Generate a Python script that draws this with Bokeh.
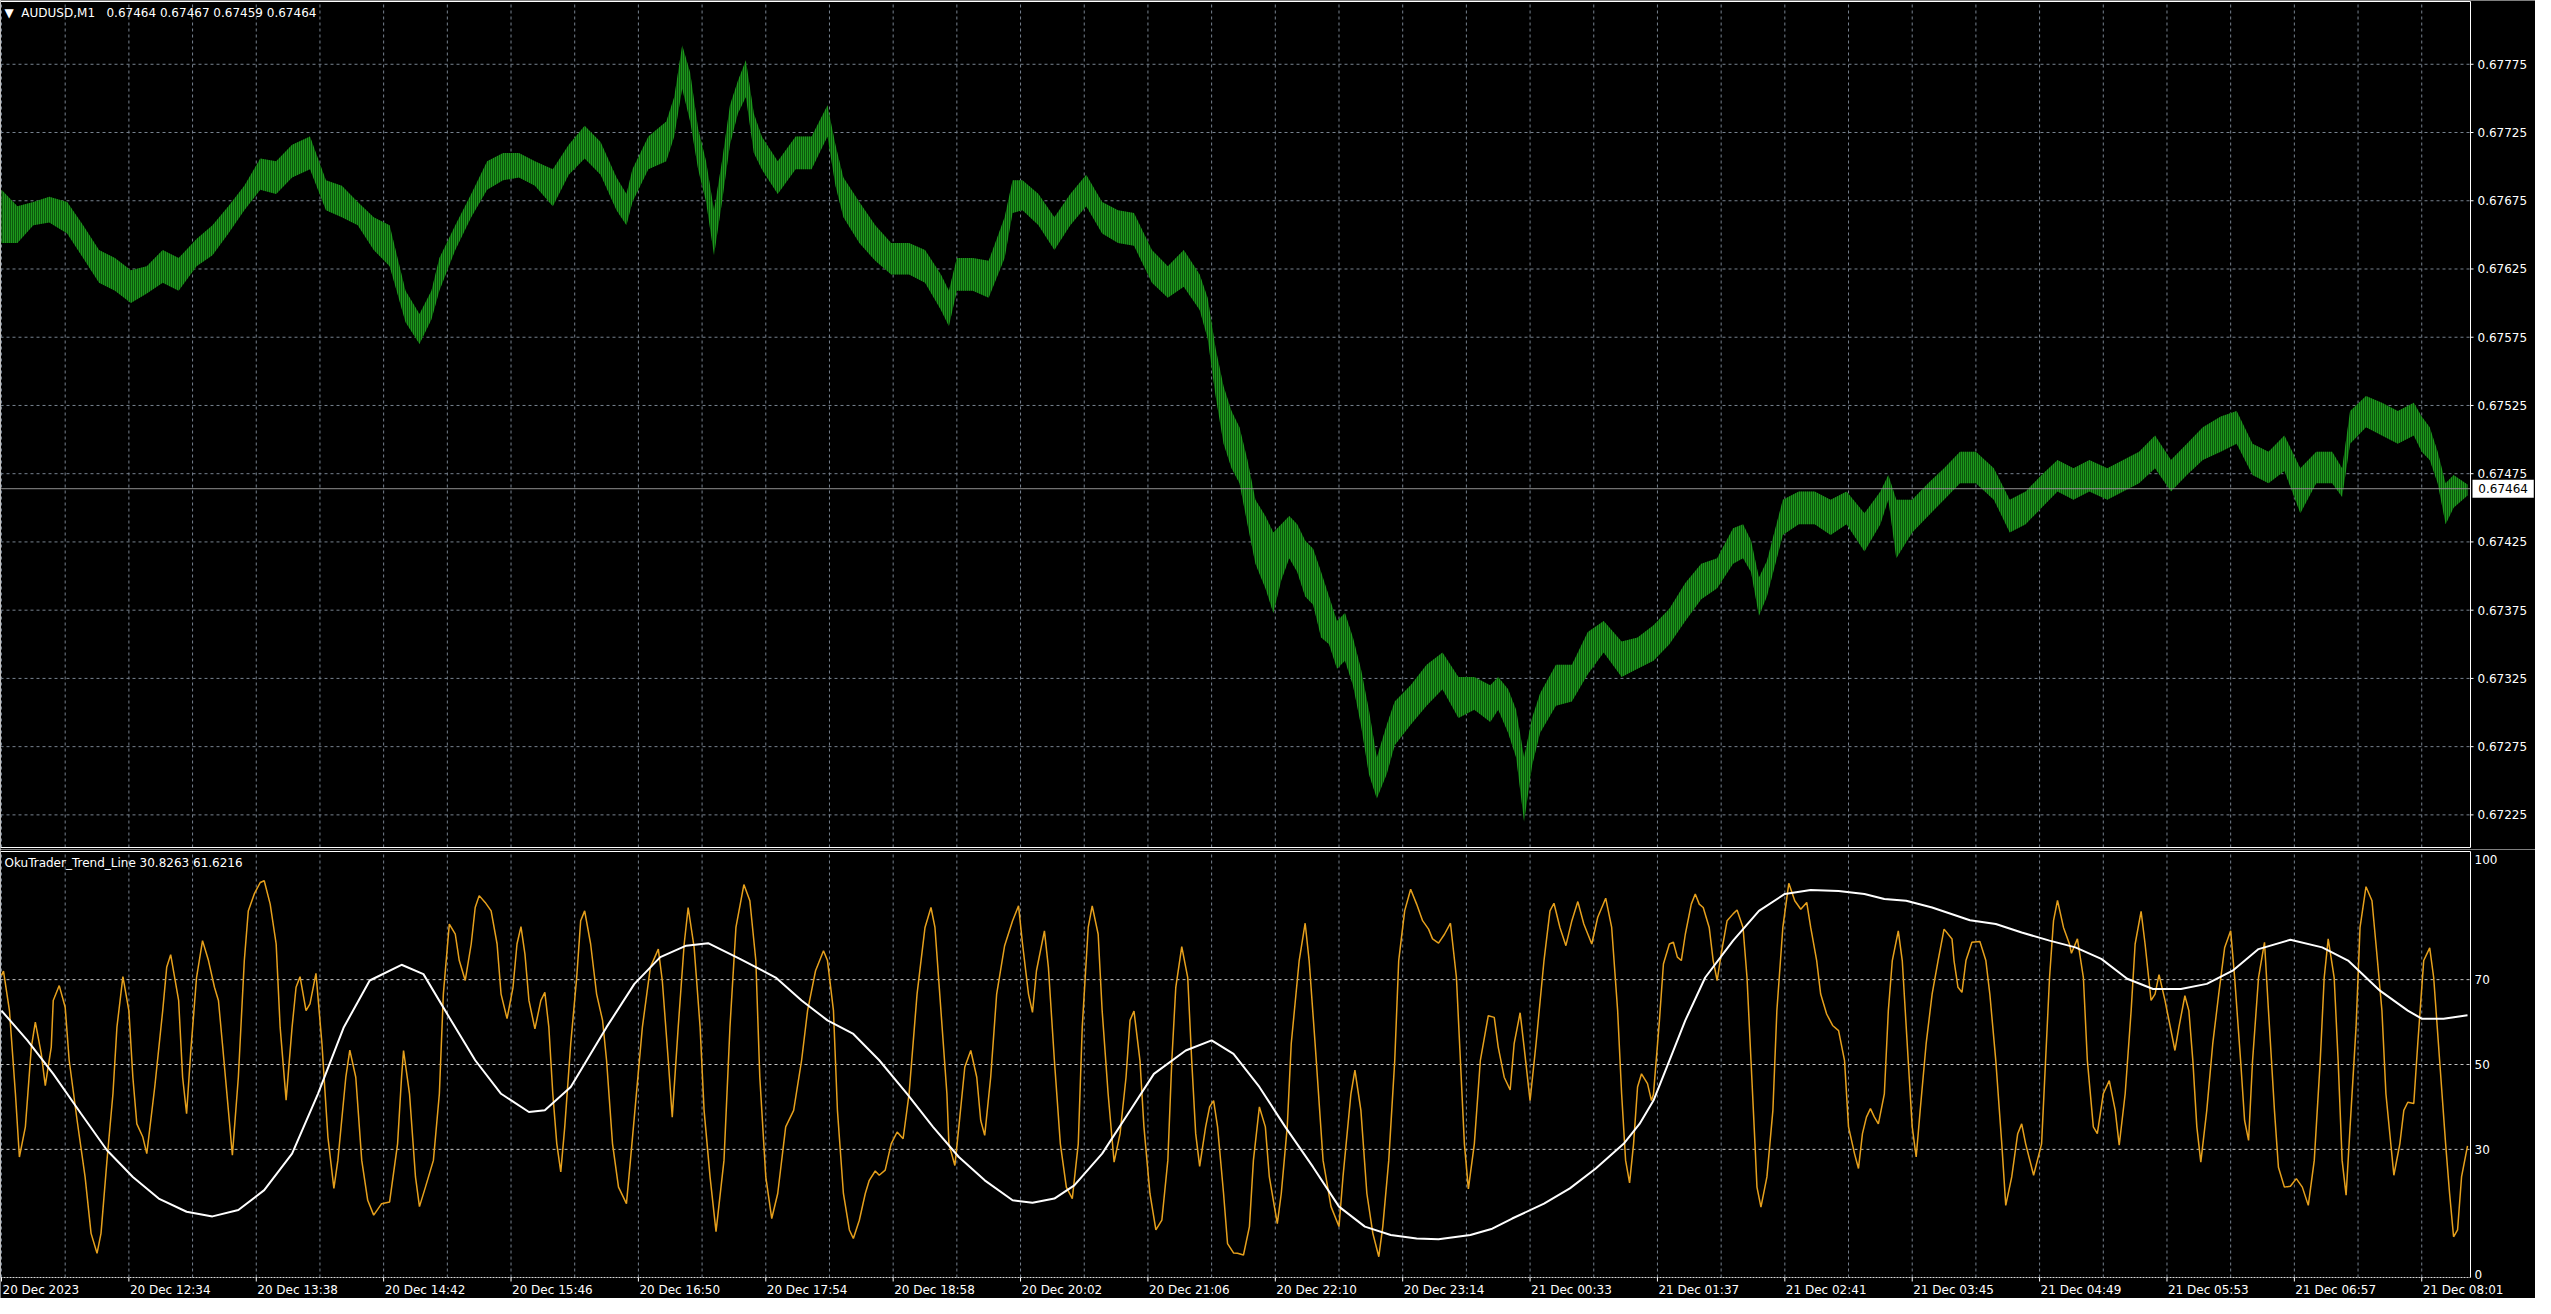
from bokeh.plotting import figure
from bokeh.models import Range1d, Label
from bokeh.layouts import column
from bokeh.embed import file_html
from bokeh.resources import INLINE
from bokeh.core.properties import value

# ---------------- data ----------------
symbol = "AUDUSD,M1"
last_ohlc = [0.67464, 0.67467, 0.67459, 0.67464]
last_price = 0.67464

# M1 bars, sampled (bar index from the left edge, high, low)
bar_idx = [0, 8, 16, 24, 33, 41, 49, 57, 65, 73, 81, 89, 98, 106, 114, 122, 130, 138, 146, 155,
           163, 171, 179, 187, 195, 203, 210, 216, 220, 228, 236, 244, 252, 260, 268, 277, 285, 293,
           301, 309, 314, 317, 325, 334, 338, 342, 346, 350, 354, 358, 362, 366, 370, 374, 378, 382,
           390, 399, 407, 415, 419, 423, 431, 439, 447, 456, 464, 472, 476, 480, 488, 496, 504, 508,
           513, 521, 529, 537, 545, 553, 561, 569, 578, 586, 594, 602, 606, 610, 614, 618, 622, 626,
           630, 635, 639, 643, 647, 651, 655, 659, 663, 667, 671, 675, 679, 683, 687, 691, 696, 700,
           708, 716, 724, 732, 740, 748, 752, 757, 761, 765, 769, 773, 781, 789, 797, 805, 814, 822,
           830, 838, 846, 854, 862, 870, 875, 879, 883, 887, 895, 903, 911, 919, 927, 936, 944, 948,
           952, 960, 968, 976, 984, 992, 1001, 1009, 1017, 1025, 1033, 1041, 1049, 1058, 1066, 1074,
           1082, 1090, 1098, 1106, 1115, 1123, 1131, 1139, 1147, 1155, 1163, 1171, 1176, 1180, 1188,
           1196, 1204, 1212, 1216, 1220, 1224, 1228, 1232, 1239]
bar_high = [0.67683, 0.67671, 0.67674, 0.67678, 0.67674, 0.67657, 0.67639, 0.67633, 0.67624, 0.67627,
            0.67639, 0.67633, 0.67647, 0.67657, 0.67671, 0.67686, 0.67706, 0.67704, 0.67716, 0.67722,
            0.67690, 0.67686, 0.67674, 0.67663, 0.67657, 0.67609, 0.67592, 0.67609, 0.67633, 0.67657,
            0.67680, 0.67704, 0.67710, 0.67710, 0.67704, 0.67698, 0.67716, 0.67730, 0.67718, 0.67692,
            0.67680, 0.67698, 0.67722, 0.67733, 0.67751, 0.67789, 0.67769, 0.67728, 0.67704, 0.67668,
            0.67704, 0.67745, 0.67763, 0.67778, 0.67739, 0.67722, 0.67704, 0.67722, 0.67722, 0.67745,
            0.67716, 0.67692, 0.67674, 0.67657, 0.67644, 0.67644, 0.67639, 0.67621, 0.67609, 0.67633,
            0.67633, 0.67631, 0.67663, 0.67690, 0.67690, 0.67680, 0.67663, 0.67680, 0.67694, 0.67674,
            0.67668, 0.67666, 0.67639, 0.67627, 0.67639, 0.67621, 0.67604, 0.67567, 0.67539, 0.67521,
            0.67509, 0.67485, 0.67456, 0.67444, 0.67432, 0.67438, 0.67444, 0.67438, 0.67426, 0.67420,
            0.67403, 0.67385, 0.67367, 0.67373, 0.67355, 0.67332, 0.67302, 0.67267, 0.67291, 0.67308,
            0.67320, 0.67335, 0.67344, 0.67326, 0.67326, 0.67320, 0.67326, 0.67317, 0.67302, 0.67267,
            0.67296, 0.67314, 0.67335, 0.67335, 0.67359, 0.67367, 0.67352, 0.67355, 0.67364, 0.67376,
            0.67395, 0.67409, 0.67413, 0.67435, 0.67438, 0.67426, 0.67399, 0.67411, 0.67456, 0.67462,
            0.67462, 0.67456, 0.67462, 0.67446, 0.67462, 0.67474, 0.67456, 0.67456, 0.67468, 0.67479,
            0.67491, 0.67491, 0.67479, 0.67456, 0.67462, 0.67474, 0.67485, 0.67479, 0.67485, 0.67479,
            0.67485, 0.67491, 0.67503, 0.67485, 0.67497, 0.67509, 0.67517, 0.67521, 0.67497, 0.67491,
            0.67503, 0.67479, 0.67491, 0.67491, 0.67479, 0.67521, 0.67532, 0.67527, 0.67521, 0.67527,
            0.67517, 0.67509, 0.67491, 0.67468, 0.67474, 0.67467]
bar_low = [0.67644, 0.67644, 0.67657, 0.67659, 0.67651, 0.67633, 0.67615, 0.67609, 0.67600, 0.67607,
           0.67615, 0.67609, 0.67627, 0.67635, 0.67651, 0.67668, 0.67683, 0.67680, 0.67692, 0.67698,
           0.67668, 0.67663, 0.67657, 0.67639, 0.67627, 0.67586, 0.67570, 0.67588, 0.67609, 0.67639,
           0.67663, 0.67683, 0.67690, 0.67692, 0.67686, 0.67671, 0.67694, 0.67706, 0.67694, 0.67668,
           0.67657, 0.67674, 0.67698, 0.67704, 0.67722, 0.67757, 0.67733, 0.67698, 0.67674, 0.67635,
           0.67674, 0.67716, 0.67739, 0.67751, 0.67710, 0.67698, 0.67680, 0.67698, 0.67698, 0.67722,
           0.67686, 0.67663, 0.67644, 0.67631, 0.67621, 0.67621, 0.67615, 0.67595, 0.67583, 0.67609,
           0.67609, 0.67604, 0.67633, 0.67666, 0.67668, 0.67657, 0.67639, 0.67657, 0.67671, 0.67651,
           0.67644, 0.67642, 0.67615, 0.67604, 0.67612, 0.67595, 0.67574, 0.67532, 0.67497, 0.67479,
           0.67468, 0.67438, 0.67409, 0.67391, 0.67373, 0.67397, 0.67413, 0.67403, 0.67385, 0.67379,
           0.67355, 0.67350, 0.67332, 0.67338, 0.67320, 0.67291, 0.67255, 0.67237, 0.67255, 0.67276,
           0.67291, 0.67305, 0.67317, 0.67296, 0.67302, 0.67293, 0.67302, 0.67285, 0.67267, 0.67220,
           0.67261, 0.67285, 0.67305, 0.67308, 0.67328, 0.67344, 0.67326, 0.67332, 0.67338, 0.67350,
           0.67367, 0.67383, 0.67391, 0.67409, 0.67413, 0.67403, 0.67371, 0.67385, 0.67430, 0.67438,
           0.67438, 0.67430, 0.67438, 0.67418, 0.67438, 0.67456, 0.67413, 0.67432, 0.67444, 0.67456,
           0.67468, 0.67468, 0.67456, 0.67432, 0.67438, 0.67450, 0.67462, 0.67456, 0.67462, 0.67456,
           0.67462, 0.67468, 0.67479, 0.67462, 0.67474, 0.67485, 0.67491, 0.67497, 0.67474, 0.67468,
           0.67477, 0.67446, 0.67468, 0.67468, 0.67458, 0.67497, 0.67509, 0.67503, 0.67497, 0.67503,
           0.67491, 0.67485, 0.67468, 0.67438, 0.67450, 0.67459]

price_ticks = [0.67225, 0.67275, 0.67325, 0.67375, 0.67425, 0.67475,
               0.67525, 0.67575, 0.67625, 0.67675, 0.67725, 0.67775]

time_tick_bars = [0, 64, 128, 192, 256, 320, 384, 448, 512, 576, 640, 704, 768, 832,
                  896, 960, 1024, 1088, 1152, 1216]
time_tick_labels = ["20 Dec 2023", "20 Dec 12:34", "20 Dec 13:38", "20 Dec 14:42",
                    "20 Dec 15:46", "20 Dec 16:50", "20 Dec 17:54", "20 Dec 18:58",
                    "20 Dec 20:02", "20 Dec 21:06", "20 Dec 22:10", "20 Dec 23:14",
                    "21 Dec 00:33", "21 Dec 01:37", "21 Dec 02:41", "21 Dec 03:45",
                    "21 Dec 04:49", "21 Dec 05:53", "21 Dec 06:57", "21 Dec 08:01"]

ind_name = "OkuTrader_Trend_Line"
ind_last = [30.8263, 61.6216]
ind_levels = [30, 50, 70]
ind_top_label = 100
ind_bottom_label = 0

# fast (orange) line: bar index, value
fast_x = [0, 1, 4, 7, 9, 12, 15, 17, 20, 22, 25, 26, 29, 32, 34, 38, 42, 45, 48, 50, 53, 56, 58,
          61, 64, 66, 68, 71, 73, 77, 81, 83, 85, 89, 91, 93, 95, 98, 101, 104, 107, 109, 111, 114,
          116, 119, 122, 124, 127, 130, 132, 135, 138, 140, 143, 146, 148, 150, 153, 155, 158, 161,
          164, 167, 169, 173, 175, 178, 181, 184, 187, 191, 195, 199, 201, 202, 205, 208, 210, 213,
          217, 220, 222, 225, 228, 230, 233, 236, 238, 240, 243, 246, 249, 251, 254, 257, 259, 261,
          263, 265, 268, 271, 273, 275, 277, 279, 281, 283, 286, 289, 291, 293, 296, 299, 302, 304,
          307, 310, 314, 316, 319, 322, 326, 330, 332, 335, 337, 340, 343, 345, 348, 351, 353, 356,
          359, 363, 366, 369, 373, 376, 379, 381, 384, 387, 390, 394, 398, 402, 405, 409, 413,
          415, 418, 420, 423, 426, 428, 431, 434, 436, 439, 441, 444, 447, 450, 453, 456, 460, 464,
          467, 469, 472, 475, 476, 479, 481, 484, 487, 490, 492, 494, 497, 500, 504, 508, 511, 513,
          516, 518, 520, 524, 526, 529, 532, 535, 538, 541, 543, 546, 548, 551, 553, 556, 559, 562,
          565, 567, 569, 572, 574, 577, 580, 583, 586, 588, 590, 593, 596, 598, 600, 602, 605, 607,
          609, 611, 614, 616, 619, 621, 624, 627, 629, 632, 635, 637, 641, 643, 646, 648, 652, 655,
          657, 660, 664, 668, 672, 674, 678, 680, 683, 686, 689, 692, 694, 697, 700, 702, 705, 708,
          711, 714, 717, 719, 722, 725, 728, 731, 733, 735, 737, 740, 743, 747, 750, 752, 755, 758,
          760, 763, 765, 768, 771, 775, 778, 780, 783, 786, 789, 792, 795, 799, 802, 806, 809, 812,
          814, 816, 818, 820, 822, 824, 827, 829,
          830, 833, 835, 838, 840, 842, 844, 846, 849, 851, 853, 855, 858, 860, 862, 864, 867, 870,
          872, 875, 877, 879, 881, 882, 884, 887, 890, 892, 895, 898, 901, 904, 907, 909, 912, 914,
          917, 920, 923, 926, 928, 931, 933, 935, 937, 939, 941, 943, 946, 948, 950, 953, 955, 958,
          960, 962, 964, 967, 970, 973, 976, 980, 981, 983, 985, 987, 990, 994, 997, 999, 1002,
          1005, 1007, 1010, 1013, 1015, 1017, 1021, 1025, 1027, 1029, 1031, 1033, 1036, 1039, 1040,
          1043, 1046, 1048, 1051, 1053, 1056, 1059, 1062, 1064, 1067, 1070, 1072, 1075, 1077, 1080,
          1082, 1084, 1087, 1089, 1092, 1094, 1097, 1099, 1101, 1103, 1105, 1108, 1111, 1114, 1117,
          1120, 1122, 1125, 1127, 1129, 1131, 1134, 1137, 1139, 1142, 1144, 1147, 1150, 1153, 1156,
          1159, 1162, 1165, 1167, 1169, 1172, 1174, 1176, 1178, 1180, 1183, 1185, 1188, 1191, 1193,
          1196, 1198, 1202, 1205, 1207, 1209, 1212, 1214, 1217, 1220, 1222, 1225, 1228, 1230, 1232,
          1234, 1236, 1239]
fast_v = [71, 72, 62.7, 43.1, 28.2, 35.3, 54.1, 60, 52.5, 45, 54.1, 65.1, 68.6, 63.5, 51, 36.8,
          23.5, 10.2, 5.5, 10.2, 27.4, 43.1, 58.8, 70.7, 62.7, 47, 36, 32.9, 29, 44.7, 62.7, 72.9,
          75.9, 65.1, 47, 38.4, 52.5, 70.5, 79.2, 74.5, 68.2, 65.1, 54.9, 39.2, 28.6, 47, 74.5, 86.2,
          90.2, 92.9, 93.3, 87.8, 78.4, 58.8, 41.6, 58.8, 68.2, 70.7, 62.7, 64.3, 71.5, 54.9, 32.9,
          20.8, 27.4, 47, 53.4, 47, 27.4, 18, 14.5, 17.2, 17.6, 31.3, 47, 53.3, 43.1, 23.5, 16.5,
          21.1, 27.4, 43.1, 66.6, 83.1, 80.7, 74.5, 69.8, 78.4, 87, 89.8, 88.2, 86.2, 78.4, 66.6,
          60.8, 68.2, 78.4, 82.5, 76, 65.1, 58.4, 65.1, 67, 58.8, 43.1, 31.3, 24.7, 35.3, 54.9, 70.5,
          83.9, 86.2, 78.4, 66.6, 60.4, 51, 31.3, 21.1, 17.2, 27.4, 43.1, 58.8, 72.9, 77.2, 69.8, 51,
          37.6, 58.8, 78.4, 87, 77.6, 58.8, 39.2, 23.5, 10.6, 27.4, 58.8, 82.3, 92.4, 88.6, 74.5, 47,
          23.5, 13.7, 19.6, 35.3, 39.2, 51, 62.7, 72.1, 76.8,
          74.5, 62.7, 39.2, 19.6, 11, 9, 13.3, 19.6, 22.7, 24.9, 23.9, 25.1, 31.3, 34.1, 32.5, 43.1,
          66.6, 82.3, 87, 82.3, 62.7, 43.1, 31.3, 26.2, 35.3, 49.4, 53.3, 47, 36.8, 33.3, 47, 66.6,
          78, 83.9, 87.4, 78.4, 66.6, 62.3, 72.1, 81.5, 72.9, 51, 31.3, 21.1, 18.4, 31.3, 58.8, 82.3,
          87.4, 80.7, 62.7, 43.1, 27, 33.7, 47, 60.4, 62.6, 50.9, 35.3, 19.6, 11, 13.3, 27.4, 50.9,
          68.2, 77.8, 70.5, 50.9, 33.7, 26, 35.3, 40, 41.5, 35.3, 19.6, 7.8, 5.6, 5.5, 5.1, 11.8,
          27.4, 40, 35.3, 23.5, 12.5, 19.6, 35.3, 54.9, 74.5, 83.3, 74.5, 54.9, 27.4, 16.5, 11.8,
          23.5, 43.1, 48.7, 39.2, 19.6, 10.2, 4.7, 11.8, 27.4, 50.9, 74.5, 86.2, 91.3, 87.8, 83.9,
          81.9, 79.6, 78.6, 80.7, 83.3, 70.5, 50.9, 31.3, 20.7, 31.3, 50.9, 61.5, 61.1, 54.1, 47, 44,
          54.9, 62.2, 54.1, 41.5, 54.9, 74.5, 86.2, 88, 82.3, 78, 83.9, 88.4, 83.1, 78.4, 84.7, 89.2,
          82.3, 62.7, 43.1, 27.4, 22.1, 31.3, 44.7, 47.8, 45.5, 41.5,
          43, 60.4, 73.7, 78.4, 78.8, 75.3, 74.5, 80.7, 87.8, 90.2, 87.8, 87, 82.3, 74.5, 69.8, 76,
          83.9, 85.5, 86.4, 82.3, 70.5, 50.9, 31.3, 21.1, 16.4, 23.5, 39.2, 62.7, 82.3, 92.7, 88.6,
          86.6, 88.2, 82.3, 74.5, 66.6, 61.9, 59.2, 58, 50.9, 35.3, 29, 25.5, 33.7, 37.6, 39.6,
          37.6, 36, 43.1, 62.7, 74.5, 81.5, 74.5, 50.9, 35.3, 28.2, 39.2, 54.9, 66.6, 74.5, 81.9,
          79.6, 74.5, 68.2, 67, 74.5, 78.8, 79, 74.5, 66.6, 50.9, 31.3, 16.8, 23.5, 33.7, 36, 31.3,
          23.9, 31.3, 50.9, 70.5, 83.9, 88.7, 82.3, 78.4, 76.2, 79.6, 70.5, 50.9, 35.3, 33.7, 43.1,
          46.2, 39.2, 31, 43.1, 62.7, 78.4, 86.1, 78.4, 65.1, 66.6, 71.2, 65.1, 60.4, 53.3, 58.8,
          66.2, 62.7, 50.9, 35.3, 27, 39.2, 54.9, 66.6, 77.6, 81.5, 70.5, 50.9, 36.8, 32.1, 50.9,
          70.5, 78.8, 62.7, 39.2, 25.8, 21.1, 21.3, 23.1, 21.1, 16.8, 27.4, 50.9, 70.5, 79.6, 70.5,
          50.9, 27.4, 19.2, 35.3, 58.8, 82.3, 91.9, 88.6, 78.4, 62.7, 43.1, 23.9, 31.3, 39.2, 41.1,
          40.8, 54.9, 74.5, 77.5, 70.5, 50.9, 31.3, 19.6, 9.4, 11, 23.5, 30.8263]

# slow (white) line: bar index, value
slow_x = [0, 13, 26, 40, 53, 66, 79, 93, 106, 119, 132, 146, 159, 172, 185, 201, 212, 225, 238,
          251, 265, 273, 286, 304, 318, 331, 344, 355, 371, 389, 402, 415, 428, 441, 455, 468, 481,
          494, 508, 518, 529, 539, 553, 566, 579, 595, 608, 619, 632, 645, 659, 672, 685, 698, 711,
          722, 738, 749, 759, 775, 788, 801, 815, 823, 830, 838, 846, 856, 870, 883, 896, 909, 923,
          936, 946, 957, 970, 989, 1002, 1015, 1029, 1042, 1055, 1068, 1081, 1095, 1108, 1121,
          1134, 1150, 1166, 1179, 1195, 1209, 1216, 1227, 1239]
slow_v = [62.7, 55.7, 47.8, 38.4, 29.8, 23.5, 18.4, 15.3, 14.2, 15.7, 20.4, 29, 43.1, 58.8, 69.8,
          73.5, 71.3, 61.1, 51, 43.1, 38.8, 39.2, 44.7, 58.8, 69, 75.3, 78, 78.6, 74.9, 70.5, 65.1,
          60.4, 57.2, 51, 43.1, 35.3, 28.2, 22.7, 18, 17.4, 18.4, 21.5, 29, 38.4, 47.8, 53.3, 55.7,
          52.5, 44.7, 35.3, 25.8, 16.5, 11.8, 9.8, 9, 8.8, 9.8, 11.3, 13.7, 17.2, 20.8, 25.5, 31.3,
          36, 41.5, 50.9, 60.4, 70.5, 79.2, 86.2, 90.2, 91.1, 90.9, 90.2, 89, 88.6, 87, 84, 83.1,
          81.1, 79.2, 77.6, 74.9, 70.2, 67.8, 67.8, 69, 72.1, 77.2, 79.4, 77.6, 74.5, 67.4, 62.7,
          60.8, 60.8, 61.6216]

# ---------------- layout constants (pixels) ----------------
W = 2535                 # canvas width
CHART_W = 2470           # width of the chart frames
H1, H2 = 849, 449        # canvas heights of the two panes
P1_TOP, P1_BOT = 1, 2    # border above / below the price frame
P2_TOP, P2_BOT = 2, 21   # border above / below the indicator frame
FONT = "DejaVu Sans"
FS = "12px"
GRID = "#77828f"
LEVEL = "#c4c4c4"
TXT = "white"

X0, X1 = -0.5, 1240.5                     # frame limits in bar units
ppb = CHART_W / (X1 - X0)                 # pixels per bar
x_end = X0 + W / ppb
PR_BOT, PR_TOP = 0.672011, 0.678210       # price frame limits
IN_BOT, IN_TOP = -0.2, 100.2              # indicator frame limits
pp = (PR_TOP - PR_BOT) / (H1 - P1_TOP - P1_BOT)
vp = (IN_TOP - IN_BOT) / (H2 - P2_TOP - P2_BOT)


def make_fig(h, yr):
    f = figure(width=W, height=h, x_range=Range1d(X0, x_end), y_range=yr,
               x_axis_location=None, y_axis_location=None, toolbar_location=None,
               output_backend="svg", background_fill_color="black", border_fill_color="black",
               outline_line_color=None, min_border=0)
    f.xgrid.visible = False
    f.ygrid.visible = False
    return f


grid_bars = list(range(0, int(X1) + 1, 32))

# ---------------- price pane ----------------
p1 = make_fig(H1, Range1d(PR_BOT - P1_BOT * pp, PR_TOP + P1_TOP * pp))
p1.segment(x0=grid_bars, y0=[PR_BOT] * len(grid_bars), x1=grid_bars, y1=[PR_TOP] * len(grid_bars),
           line_color=GRID, line_dash="3 3", line_width=1)
p1.segment(x0=[X0] * len(price_ticks), y0=price_ticks, x1=[X1] * len(price_ticks), y1=price_ticks,
           line_color=GRID, line_dash="3 3", line_width=1)
# tick marks to the right of the frame
p1.segment(x0=[X1] * len(price_ticks), y0=price_ticks, x1=[X1 + 3 / ppb] * len(price_ticks),
           y1=price_ticks, line_color=TXT, line_width=1)

p1.varea(x=bar_idx, y1=bar_low, y2=bar_high, fill_color="#0c5a0c",
         hatch_pattern="vertical_line", hatch_color="#2ed42e", hatch_scale=2, hatch_weight=1)

p1.segment(x0=[X0], y0=[last_price], x1=[X1], y1=[last_price], line_color="#909090", line_width=1)
p1.quad(left=[X0], right=[X1], bottom=[PR_BOT], top=[PR_TOP], fill_color=None,
        line_color="white", line_width=1)

p1.text(x=[X1] * len(price_ticks), y=price_ticks, text=["%.5f" % t for t in price_ticks],
        x_offset=7, text_align="left", text_baseline="middle", text_color=TXT,
        text_font=value(FONT), text_font_size=FS)
p1.add_layout(Label(x=X1, y=last_price, x_offset=2, text="\u00a0%.5f\u00a0" % last_price,
                    text_baseline="middle", text_align="left", text_color="black",
                    text_font=FONT, text_font_size=FS, background_fill_color="white", padding=2))
header = "\u25BC\u00a0\u00a0" + symbol + "\u00a0\u00a0 " + " ".join("%.5f" % v for v in last_ohlc)
p1.add_layout(Label(x=X0, y=PR_TOP, x_offset=4, y_offset=-4, text=header,
                    text_baseline="top", text_color=TXT, text_font=FONT, text_font_size=FS))

# ---------------- indicator pane ----------------
p2 = make_fig(H2, Range1d(IN_BOT - P2_BOT * vp, IN_TOP + P2_TOP * vp))
p2.segment(x0=grid_bars, y0=[IN_BOT] * len(grid_bars), x1=grid_bars, y1=[IN_TOP] * len(grid_bars),
           line_color=GRID, line_dash="3 3", line_width=1)
p2.segment(x0=[X0] * len(ind_levels), y0=ind_levels, x1=[X1] * len(ind_levels), y1=ind_levels,
           line_color=LEVEL, line_dash="3 3", line_width=1)

p2.line(fast_x, fast_v, line_color="#e6a01c", line_width=1.5)
p2.line(slow_x, slow_v, line_color="white", line_width=2)

# frame: solid top/left/right, dashed bottom
p2.segment(x0=[X0, X0, X1], y0=[IN_TOP, IN_BOT, IN_BOT], x1=[X1, X0, X1], y1=[IN_TOP, IN_TOP, IN_TOP],
           line_color="white", line_width=1)
p2.segment(x0=[X0], y0=[IN_BOT], x1=[X1], y1=[IN_BOT], line_color="#d8d8d8",
           line_dash="2 1", line_width=1)

p2.text(x=[X1] * len(ind_levels), y=ind_levels, text=[str(v) for v in ind_levels],
        x_offset=4, text_align="left", text_baseline="middle", text_color=TXT,
        text_font=value(FONT), text_font_size=FS)
p2.text(x=[X1], y=[IN_TOP], text=[str(ind_top_label)], x_offset=4, y_offset=3,
        text_align="left", text_baseline="top", text_color=TXT,
        text_font=value(FONT), text_font_size=FS)
p2.text(x=[X1], y=[IN_BOT], text=[str(ind_bottom_label)], x_offset=4, y_offset=-3,
        text_align="left", text_baseline="alphabetic", text_color=TXT,
        text_font=value(FONT), text_font_size=FS)

# time axis: tick marks and left-aligned labels
p2.segment(x0=time_tick_bars, y0=[IN_BOT] * len(time_tick_bars), x1=time_tick_bars,
           y1=[IN_BOT - 4 * vp] * len(time_tick_bars), line_color="white", line_width=1)
p2.text(x=time_tick_bars, y=[IN_BOT] * len(time_tick_bars), text=time_tick_labels,
        x_offset=1, y_offset=5, text_align="left", text_baseline="top", text_color=TXT,
        text_font=value(FONT), text_font_size=FS)

ind_title = "%s %.4f %.4f" % (ind_name, ind_last[0], ind_last[1])
p2.add_layout(Label(x=X0, y=IN_TOP, x_offset=4, y_offset=-4, text=ind_title,
                    text_baseline="top", text_color=TXT, text_font=FONT, text_font_size=FS))

layout = column(p1, p2, spacing=0)
open("out.html", "w").write(file_html(layout, INLINE))
